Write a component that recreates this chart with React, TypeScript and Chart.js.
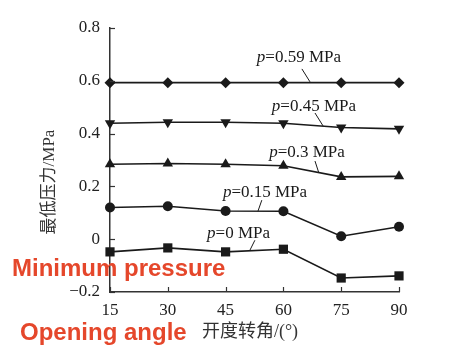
import React, { useEffect, useRef } from "react";
import { Chart, registerables } from "chart.js";

Chart.register(...registerables);

const angles = [15, 30, 45, 60, 75, 90];
const p059 = [0.593, 0.593, 0.593, 0.593, 0.593, 0.593];
const p045 = [0.439, 0.443, 0.443, 0.439, 0.423, 0.418];
const p030 = [0.284, 0.287, 0.284, 0.278, 0.236, 0.238];
const p015 = [0.12, 0.125, 0.107, 0.106, 0.011, 0.047];
const p000 = [-0.048, -0.033, -0.048, -0.038, -0.147, -0.139];
const seriesNames = ["p=0.59 MPa", "p=0.45 MPa", "p=0.3 MPa", "p=0.15 MPa", "p=0 MPa"];
const yTicks = [-0.2, 0, 0.2, 0.4, 0.6, 0.8];
const xTicks = [15, 30, 45, 60, 75, 90];

// annotation label anchors in data units: [textLeftX, textCenterY, leadFromX, leadFromY, leadToX, leadToY]
const labelAnchors = [
  [53.1, 0.687, 64.8, 0.645, 66.9, 0.596],
  [57.0, 0.501, 68.2, 0.478, 70.3, 0.429],
  [56.3, 0.33, 68.2, 0.296, 69.2, 0.251],
  [44.3, 0.175, 54.4, 0.148, 53.4, 0.106],
  [40.2, 0.023, 52.6, -0.004, 51.3, -0.042],
];

const SERIF = "'Liberation Serif', 'DejaVu Serif', serif";
const CJK = "'Liberation Serif', 'Noto Sans CJK SC', serif";
const INK = "#1a1a1a";

const overlay = {
  id: "overlay",
  afterDraw(chart: any) {
    const ctx = chart.ctx;
    const xs = chart.scales.x;
    const ys = chart.scales.y;
    const area = chart.chartArea;
    ctx.save();
    // inward ticks
    ctx.strokeStyle = "#333";
    ctx.lineWidth = 1.2;
    yTicks.forEach((v) => {
      const y = Math.round(ys.getPixelForValue(v)) + 0.5;
      ctx.beginPath();
      ctx.moveTo(area.left, y);
      ctx.lineTo(area.left + 5, y);
      ctx.stroke();
    });
    xTicks.forEach((v) => {
      const x = Math.round(xs.getPixelForValue(v)) + 0.5;
      ctx.beginPath();
      ctx.moveTo(x, area.bottom);
      ctx.lineTo(x, area.bottom - 5);
      ctx.stroke();
    });
    // series labels
    ctx.fillStyle = INK;
    ctx.strokeStyle = INK;
    ctx.lineWidth = 1;
    ctx.textBaseline = "middle";
    seriesNames.forEach((name, i) => {
      const a = labelAnchors[i];
      const tx = xs.getPixelForValue(a[0]);
      const ty = ys.getPixelForValue(a[1]);
      ctx.textAlign = "left";
      ctx.font = `italic 17px ${SERIF}`;
      ctx.fillText("p", tx, ty);
      const w = ctx.measureText("p").width;
      ctx.font = `17px ${SERIF}`;
      ctx.fillText(name.slice(1), tx + w, ty);
      ctx.beginPath();
      ctx.moveTo(xs.getPixelForValue(a[2]), ys.getPixelForValue(a[3]));
      ctx.lineTo(xs.getPixelForValue(a[4]), ys.getPixelForValue(a[5]));
      ctx.stroke();
    });
    // axis titles
    ctx.fillStyle = "#333";
    ctx.textAlign = "center";
    ctx.font = `18px ${CJK}`;
    ctx.fillText("开度转角/(°)", 250, 332);
    ctx.save();
    ctx.translate(50, 182);
    ctx.rotate(-Math.PI / 2);
    ctx.font = `17px ${CJK}`;
    ctx.fillText("最低压力/MPa", 0, 0);
    ctx.restore();
    // orange overlay captions
    ctx.fillStyle = "#e5472b";
    ctx.font = "bold 24px 'Liberation Sans', Arial, sans-serif";
    ctx.textAlign = "left";
    ctx.textBaseline = "alphabetic";
    ctx.fillText("Minimum pressure", 12, 276);
    ctx.fillText("Opening angle", 20, 340);
    ctx.restore();
  },
};

export default function App() {
  const ref = useRef<HTMLCanvasElement>(null);
  useEffect(() => {
    document.body.style.margin = "0";
    const mk = (data: number[], style: string, rot: number, r: number) => ({
      data: angles.map((a, i) => ({ x: a, y: data[i] })),
      borderColor: INK,
      backgroundColor: INK,
      borderWidth: 1.6,
      pointStyle: style,
      pointRotation: rot,
      pointRadius: r,
      pointBorderWidth: 0,
      tension: 0,
      clip: false,
    });
    const chart = new Chart(ref.current!, {
      type: "line",
      data: {
        datasets: [
          mk(p059, "rectRot", 0, 5.5),
          mk(p045, "triangle", 180, 6),
          mk(p030, "triangle", 0, 6),
          mk(p015, "circle", 0, 5),
          mk(p000, "rect", 0, 6.5),
        ],
      },
      options: {
        animation: false,
        responsive: false,
        events: [],
        layout: { padding: { left: 0, right: 51, top: 28, bottom: 0 }, autoPadding: false },
        plugins: { legend: { display: false }, tooltip: { enabled: false } },
        scales: {
          x: {
            type: "linear",
            min: 15,
            max: 90,
            afterBuildTicks: (s: any) => {
              s.ticks = xTicks.map((v) => ({ value: v }));
            },
            afterFit: (s: any) => {
              s.height = 63;
            },
            grid: { display: true, drawOnChartArea: false, drawTicks: false },
            border: { display: true, color: "#333", width: 1.5 },
            ticks: { color: "#222", padding: 8, font: { family: SERIF, size: 17 } },
          },
          y: {
            type: "linear",
            min: -0.2,
            max: 0.8,
            afterBuildTicks: (s: any) => {
              s.ticks = yTicks.map((v) => ({ value: v }));
            },
            afterFit: (s: any) => {
              s.width = 110;
            },
            grid: { display: true, drawOnChartArea: false, drawTicks: false },
            border: { display: true, color: "#333", width: 1.5 },
            ticks: {
              color: "#222",
              padding: 10,
              font: { family: SERIF, size: 17 },
              callback: (v: any) => {
                const n = Math.round(Number(v) * 10) / 10;
                if (n === 0) return "0";
                return n < 0 ? "\u2212" + Math.abs(n).toFixed(1) : n.toFixed(1);
              },
            },
          },
        },
      },
      plugins: [overlay],
    } as any);
    return () => chart.destroy();
  }, []);
  return (
    <div style={{ position: "absolute", left: 0, top: 0, width: 450, height: 355, background: "#fff" }}>
      <canvas ref={ref} width={450} height={355} style={{ width: 450, height: 355 }} />
    </div>
  );
}
